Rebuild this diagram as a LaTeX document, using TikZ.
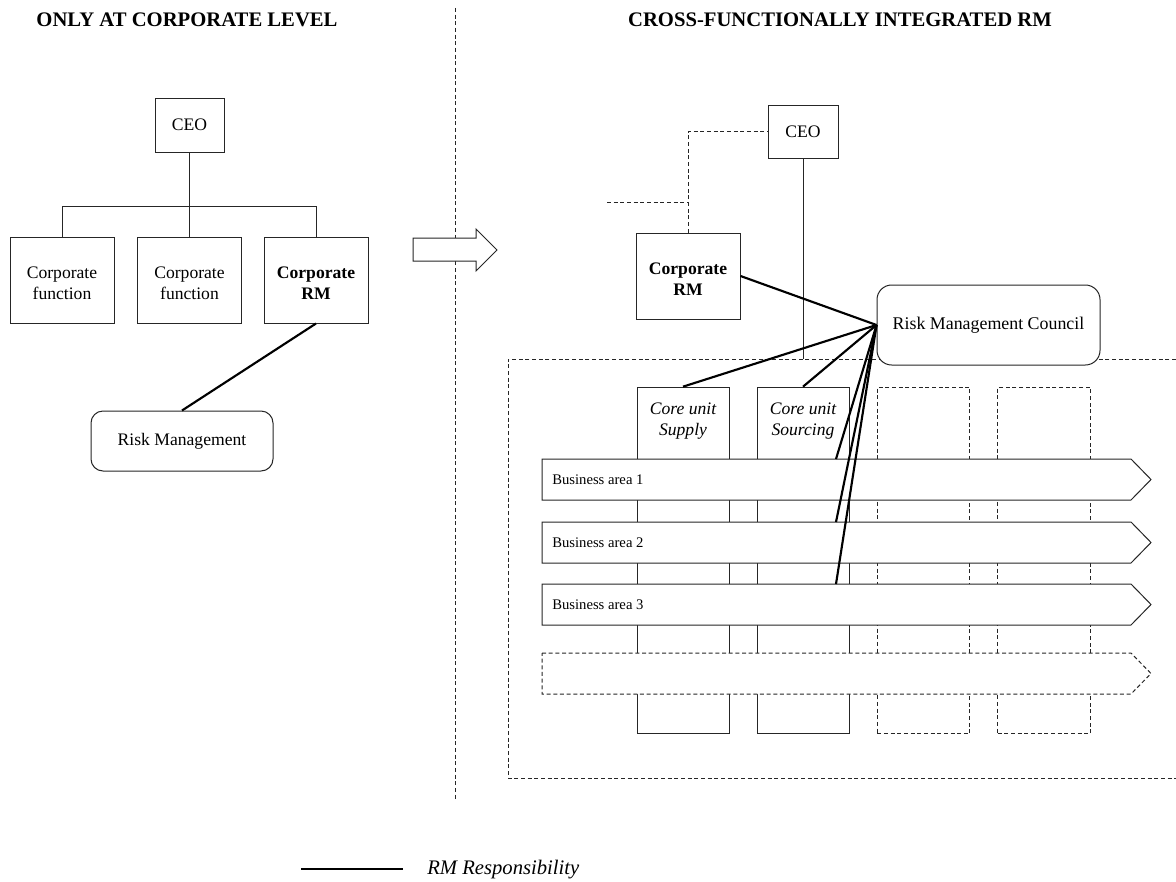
\documentclass[tikz,border=0pt]{standalone}
\usepackage{fontspec}
\setmainfont{Liberation Serif}
\begin{document}
\begin{tikzpicture}[x=0.75pt,y=-0.75pt,
  thin/.style={line width=0.75pt,draw=black!85},
  dashline/.style={line width=0.75pt,draw=black!85,dash pattern=on 3pt off 2pt},
  rmline/.style={line width=1.6pt,draw=black},
  txt/.style={font=\fontsize{13.2}{15.8}\selectfont,align=center},
  title/.style={font=\fontsize{15.5}{18}\selectfont\bfseries},
  orgbox/.style={thin,fill=white,rectangle,inner sep=0pt,txt},
  funcbox/.style={orgbox,minimum width=78pt,minimum height=64.5pt},
  boxtext/.style={txt,inner sep=0pt,yshift=-2.25pt},
  roundbox/.style={thin,fill=white,rectangle,rounded corners=9pt,inner sep=0pt,txt},
  corebox/.style={thin,fill=white,rectangle,inner sep=0pt,minimum width=69pt,minimum height=260pt},
  ghostbox/.style={dashline,fill=white,rectangle,inner sep=0pt,minimum width=69.5pt,minimum height=260pt},
  coretext/.style={txt,font=\fontsize{13.2}{15.8}\selectfont\itshape},
  batext/.style={font=\fontsize{11}{13}\selectfont,anchor=west,inner sep=0pt},
  bashape/.style={thin,fill=white}
]
\useasboundingbox (0,0) rectangle (1176,881);

% headings
\node[title] (tl) at (187,20) {ONLY AT CORPORATE LEVEL};
\node[title] (tr) at (840,20) {CROSS-FUNCTIONALLY INTEGRATED RM};

% divider between the two halves
\coordinate (divtop) at (455,8);
\coordinate (divbot) at (455,800);
\draw[dashline] (divtop) -- (divbot);

% ---------- left: corporate level only ----------
\node[orgbox,minimum width=51.75pt,minimum height=40.5pt] (ceoL) at (189.5,125) {CEO};
\node[funcbox,label={[boxtext]center:Corporate\\function}] (cf1) at (62,280) {};
\node[funcbox,label={[boxtext]center:Corporate\\function}] (cf2) at (189.5,280) {};
\node[funcbox,label={[boxtext]center:\textbf{Corporate}\\\textbf{RM}}] (crmL) at (316,280) {};
\node[roundbox,minimum width=136.5pt,minimum height=45pt] (rmL) at (182,441) {Risk Management};

\draw[thin] (ceoL.south) -- (cf2.north);
\draw[thin] (cf1.north) -- ++(0,-30) -| (crmL.north);
\draw[rmline] (crmL.south) -- (rmL.north);

% transition arrow
\draw[thin,fill=white] (413,238) -- (476,238) -- (476,229) -- (497,250) -- (476,271)
  -- (476,261) -- (413,261) -- cycle;

% ---------- right: cross-functionally integrated ----------
% enclosing dashed frame (open at the right edge)
\draw[dashline] (1176,359) -- (508,359) -- (508,778) -- (1176,778);

\node[orgbox,minimum width=52.5pt,minimum height=39.75pt] (ceoR) at (803,131.5) {CEO};
\node[funcbox,label={[boxtext]center:\textbf{Corporate}\\\textbf{RM}}] (crmR) at (688,276) {};

\coordinate (frametop) at (803,359);
\draw[thin] (ceoR.south) -- (frametop);
\draw[dashline] (crmR.north) |- (ceoR.west);
\coordinate (dl) at (607,202);
\draw[dashline] (dl) -- (dl -| crmR.north);

% core units (columns)
\node[corebox] (supply) at (683,560.5) {};
\node[corebox] (sourcing) at (803,560.5) {};
\node[ghostbox] (ghost1) at (923.5,560.5) {};
\node[ghostbox] (ghost2) at (1044,560.5) {};
\node[coretext] (supplyt) at (683,421.5) {Core unit\\Supply};
\node[coretext] (sourcingt) at (803,421.5) {Core unit\\Sourcing};

% business areas (rows)
\draw[bashape] (542,459) -- (1131,459) -- (1151,479.5) -- (1131,500) -- (542,500) -- cycle;
\draw[bashape] (542,522) -- (1131,522) -- (1151,542.5) -- (1131,563) -- (542,563) -- cycle;
\draw[bashape] (542,584) -- (1131,584) -- (1151,604.5) -- (1131,625) -- (542,625) -- cycle;
\draw[dashline,fill=white] (542,653) -- (1131,653) -- (1151,673.5) -- (1131,694) -- (542,694) -- cycle;
\node[batext] (ba1) at (552,479.5) {Business area 1};
\node[batext] (ba2) at (552,542.5) {Business area 2};
\node[batext] (ba3) at (552,604.5) {Business area 3};
\coordinate (ba1r) at (836,459);
\coordinate (ba2r) at (836,522);
\coordinate (ba3r) at (836,584);

% risk management council
\node[roundbox,minimum width=167.25pt,minimum height=60pt,rounded corners=11pt,
  font=\fontsize{13.4}{15.8}\selectfont] (rmc) at (988.5,325) {Risk Management Council};

% RM responsibility links
\draw[rmline] (crmR.east) -- (rmc.west);
\draw[rmline] (supply.north) -- (rmc.west);
\draw[rmline] (sourcing.north) -- (rmc.west);
\draw[rmline] (ba1r) -- (rmc.west);
\draw[rmline] (ba2r) -- (rmc.west);
\draw[rmline] (ba3r) -- (rmc.west);

% legend
\coordinate (lega) at (301,869);
\coordinate (legb) at (403,869);
\draw[rmline] (lega) -- (legb);
\node[anchor=west,inner sep=0pt,font=\fontsize{15.5}{18}\selectfont\itshape] (legt) at (427,870) {RM Responsibility};
\end{tikzpicture}
\end{document}
